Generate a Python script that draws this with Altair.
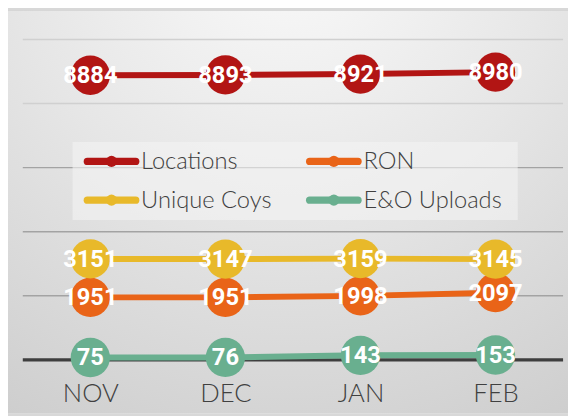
import altair as alt
import pandas as pd

months = ["NOV", "DEC", "JAN", "FEB"]
series_names = ["Locations", "RON", "Unique Coys", "E&O Uploads"]
locations = [8884, 8893, 8921, 8980]
ron = [1951, 1951, 1998, 2097]
unique_coys = [3151, 3147, 3159, 3145]
eo_uploads = [75, 76, 143, 153]
series_colors = ["#B21514", "#E96418", "#E8B92A", "#69AF8F"]
grid_upper = [8000, 10000]
grid_lower = [2000, 4000, 6000]
legend_col = [0, 1, 0, 1]
legend_row = [0, 0, 1, 1]

rows = []
for name, vals in zip(series_names, [locations, ron, unique_coys, eo_uploads]):
    for m, v in zip(months, vals):
        rows.append({"month": m, "series": name, "value": v})
df = pd.DataFrame(rows)
leg_df = pd.DataFrame({"series": series_names, "col": legend_col, "row": legend_row})

W, H = 548, 325
PAD = {"left": 15, "top": 29, "right": 5, "bottom": 54}

yscale = alt.Scale(domain=[0, 10000], nice=False, zero=True)
cscale = alt.Scale(domain=series_names, range=series_colors)
x = alt.X("month:N", sort=months, scale=alt.Scale(type="point", padding=0.5),
          axis=alt.Axis(title=None, domain=False, ticks=False, labelAngle=0, zindex=1,
                        labelFont="Lato", labelFontSize=26, labelFontWeight=300,
                        labelColor="#404040", labelPadding=34, labelBaseline="middle"))
y = alt.Y("value:Q", scale=yscale, axis=None)
color = alt.Color("series:N", scale=cscale, legend=None)

bg = alt.Chart(alt.Data(values=[{}])).mark_rect(
    color=alt.Gradient(gradient="radial",
                       stops=[alt.GradientStop(color="#FBFBFB", offset=0),
                              alt.GradientStop(color="#E6E6E6", offset=0.45),
                              alt.GradientStop(color="#C9C9C9", offset=1)],
                       x1=0.5, y1=0.0, r1=0, x2=0.5, y2=0.0, r2=1.1)
).encode(x=alt.value(-PAD["left"]), x2=alt.value(W + PAD["right"]),
         y=alt.value(-PAD["top"]), y2=alt.value(H + PAD["bottom"]))

grid_hi = alt.Chart(alt.Data(values=[{"v": g} for g in grid_upper])).mark_rule(
    color="#D0D0D0", strokeWidth=1.5).encode(y=alt.Y("v:Q", scale=yscale, axis=None))
grid_lo = alt.Chart(alt.Data(values=[{"v": g} for g in grid_lower])).mark_rule(
    color="#A3A3A3", strokeWidth=1.5).encode(y=alt.Y("v:Q", scale=yscale, axis=None))

zero = alt.Chart(alt.Data(values=[{"v": 0}])).mark_rule(color="#3E3E3E", strokeWidth=3.5).encode(
    y=alt.Y("v:Q", scale=yscale, axis=None))

base = alt.Chart(df)

lines = base.mark_line(strokeWidth=6).encode(x=x, y=y, color=color, detail="series:N")
points = base.mark_circle(opacity=1, size=1590).encode(x=x, y=y, color=color)
labels = base.mark_text(font="Roboto", fontSize=24, fontWeight="bold",
                        color="white", align="center", baseline="middle", dy=1).encode(
    x=x, y=y, text="value:Q")

main = alt.layer(bg, grid_hi, grid_lo, zero, lines, points, labels)

# legend
lx = alt.X("col:Q", scale=alt.Scale(domain=[0, 1], range=[90, 315.5]), axis=None)
ly = alt.Y("row:Q", scale=alt.Scale(domain=[0, 1], range=[123.7, 163]), axis=None)
box = alt.Chart(alt.Data(values=[{}])).mark_rect(color="#F4F4F4", opacity=0.6).encode(
    x=alt.value(50.5), x2=alt.value(502), y=alt.value(104), y2=alt.value(183))
leg_base = alt.Chart(leg_df)
leg_rules = leg_base.mark_rule(strokeWidth=7.5, strokeCap="round", xOffset=-24.5, x2Offset=24.5).encode(
    x=lx, x2="col:Q", y=ly, color=color)
leg_dots = leg_base.mark_circle(opacity=1, size=127).encode(x=lx, y=ly, color=color)
leg_text = leg_base.mark_text(font="Lato", fontSize=24, fontWeight=300, color="#404040", align="left",
                              baseline="middle", dx=30, dy=1).encode(x=lx, y=ly, text="series:N")
legend = alt.layer(box, leg_rules, leg_dots, leg_text)

chart = alt.layer(main, legend).resolve_scale(x="independent", y="independent").properties(
    width=W, height=H, padding=PAD,
    autosize=alt.AutoSizeParams(type="none"),
    background="#D8D8D8"
).configure_view(stroke=None)

chart.save("out.html", embed_options={"renderer": "svg", "actions": False})
